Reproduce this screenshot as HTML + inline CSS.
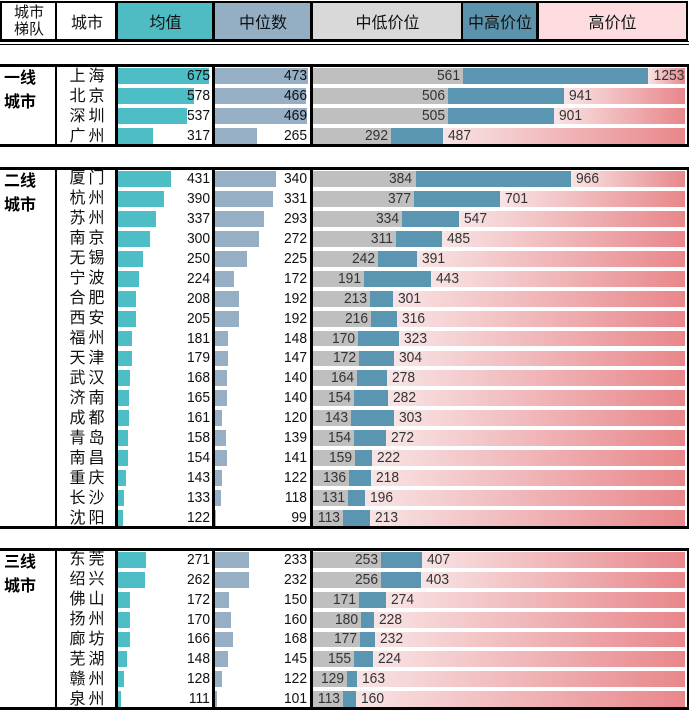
<!DOCTYPE html>
<html><head><meta charset="utf-8">
<style>
body{margin:0;background:#fff;width:689px;height:712px;overflow:hidden;position:relative;font-family:"Liberation Sans","Noto Sans CJK SC",sans-serif;}
div{position:absolute;box-sizing:border-box;}
.h{top:1px;height:40px;border:2px solid #000;border-right:none;display:flex;align-items:center;justify-content:center;font-size:16px;color:#111;}
.num{font-size:15px;color:#111;line-height:16px;white-space:nowrap;}
.num span{display:inline-block;transform:scaleX(0.92);transform-origin:right center;}
.city{font-size:16px;color:#111;letter-spacing:3px;width:62px;text-align:center;left:56px;padding-left:3px;}
.tier{font-size:16px;font-weight:bold;left:4px;line-height:24px;}
</style></head><body>
<div class="h" style="left:0;width:56px;line-height:17px;text-align:center;font-size:15px;">城市<br>梯队</div>
<div class="h" style="left:55px;width:62px;">城市</div>
<div class="h" style="left:115px;width:98px;background:#4fbcc4;border-left-width:3px;">均值</div>
<div class="h" style="left:212px;width:99px;background:#94aec4;border-left-width:3px;">中位数</div>
<div class="h" style="left:310px;width:152px;background:#d9d9d9;border-left-width:3px;">中低价位</div>
<div class="h" style="left:461px;width:76px;background:#5b93ad;border-left-width:2px;">中高价位</div>
<div class="h" style="left:536px;width:152px;background:#fddcdf;border-right:2px solid #000;border-left-width:3px;">高价位</div>
<div style="left:0;top:41px;width:689px;height:4px;border-top:1px solid #000;border-bottom:1px solid #000;"></div>
<script>
const tierNames=["一线","二线","三线"];
const cities=[["上海","北京","深圳","广州"],
["厦门","杭州","苏州","南京","无锡","宁波","合肥","西安","福州","天津","武汉","济南","成都","青岛","南昌","重庆","长沙","沈阳"],
["东莞","绍兴","佛山","扬州","廊坊","芜湖","赣州","泉州"]];
const meanVals=[[675,578,537,317],[431,390,337,300,250,224,208,205,181,179,168,165,161,158,154,143,133,122],[271,262,172,170,166,148,128,111]];
const medianVals=[[473,466,469,265],[340,331,293,272,225,172,192,192,148,147,140,140,120,139,141,122,118,99],[233,232,150,160,168,145,122,101]];
const lowVals=[[561,506,505,292],[384,377,334,311,242,191,213,216,170,172,164,154,143,154,159,136,131,113],[253,256,171,180,177,155,129,113]];
const highVals=[[1253,941,901,487],[966,701,547,485,391,443,301,316,323,304,278,282,303,272,222,218,196,213],[407,403,274,228,232,224,163,160]];
const blockTop=[64,167,548], blockBot=[147,529,710];
const meanX=v=>0.156*(v-92), medX=v=>0.245*(v-93), rngX=v=>0.267*v;
const root=document.body;
function mk(cls,style,txt){const d=document.createElement('div');if(cls)d.className=cls;d.style.cssText=style;if(txt!=null)d.textContent=txt;root.appendChild(d);return d;}
function mkn(style,txt,origin){const d=mk('num',style);const s=document.createElement('span');s.textContent=txt;if(origin)s.style.transformOrigin=origin;d.appendChild(s);return d;}
for(let b=0;b<3;b++){
  const top=blockTop[b],bot=blockBot[b],n=cities[b].length,rh=(bot-top-3)/n;
  let d=mk('','left:0;top:'+top+'px;width:689px;height:'+(bot-top)+'px;border-top:3px solid #000;border-bottom:3px solid #000;border-right:2px solid #000;');
  
  
  [[55,2],[115,3],[212,3],[310,3]].forEach(([x,w])=>{const l=mk('','left:'+x+'px;top:'+top+'px;width:'+w+'px;height:'+(bot-top)+'px;background:#000;');
    
    });
  const t=mk('tier','top:'+(top+3)+'px;');t.innerHTML=tierNames[b]+'<br>城市';
  
  
  for(let i=0;i<n;i++){
    const y=top+2+i*rh, bh=rh-4, by=y+2, ty=y+(rh-16)/2;
    const c=mk('city','top:'+(y+(rh-19)/2)+'px;line-height:19px;',cities[b][i]);
    
    
    const mv=meanVals[b][i],md=medianVals[b][i],lo=lowVals[b][i],hi=highVals[b][i];
    let e=mk('','left:118px;top:'+by+'px;height:'+bh+'px;width:'+meanX(mv)+'px;background:#4dbdc6;');
    
    
    e=mkn('left:118px;width:92px;text-align:right;top:'+ty+'px;',mv);
    
    
    e=mk('','left:215px;top:'+by+'px;height:'+bh+'px;width:'+medX(md)+'px;background:#97afc4;');
    
    
    e=mkn('left:215px;width:92px;text-align:right;top:'+ty+'px;',md);
    
    
    const x0=313,xl=x0+rngX(lo),xh=x0+rngX(hi);
    e=mk('','left:'+x0+'px;top:'+by+'px;height:'+bh+'px;width:'+(xl-x0)+'px;background:#bfbfbf;');
    
    
    e=mk('','left:'+xl+'px;top:'+by+'px;height:'+bh+'px;width:'+(xh-xl)+'px;background:#5a96b2;');
    
    
    e=mk('','left:'+xh+'px;top:'+by+'px;height:'+bh+'px;width:'+(685-xh)+'px;background:linear-gradient(to right,#f8e4e5,#e8878b);');
    
    
    e=mkn('left:'+(x0)+'px;width:'+(xl-x0-3)+'px;text-align:right;top:'+ty+'px;color:#333;',lo);
    
    
    if(xh+40>685){e=mkn('left:'+xh+'px;width:'+(684-xh)+'px;text-align:right;top:'+ty+'px;color:#333;',hi);}
    else{e=mkn('left:'+(xh+5)+'px;top:'+ty+'px;color:#333;',hi,'left center');}
    
    
  }
}
</script>
</body></html>
